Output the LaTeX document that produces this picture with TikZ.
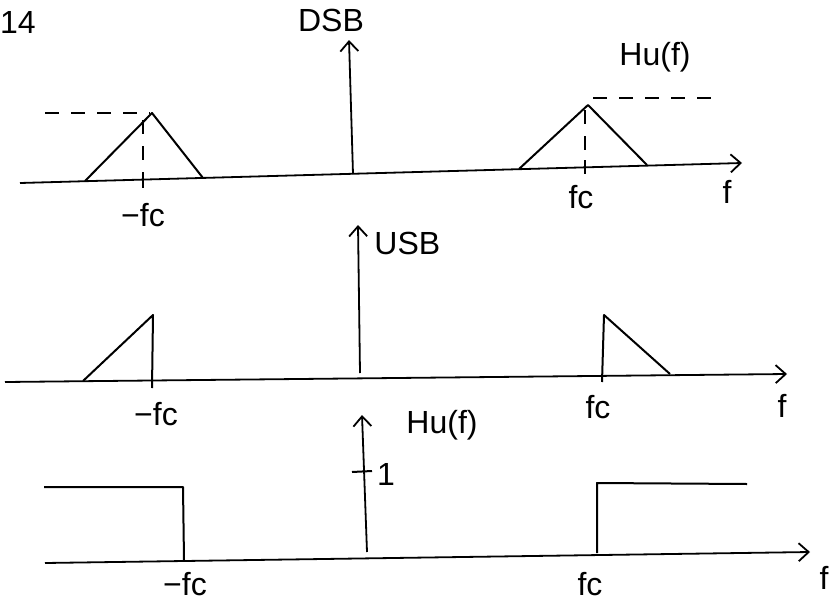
\documentclass[tikz,border=0pt]{standalone}
\usepackage{fontspec}
\setmainfont{Liberation Sans}
\usetikzlibrary{arrows.meta}

\begin{document}
\begin{tikzpicture}[x=0.5pt,y=-0.5pt,
  every node/.style={font=\fontsize{16}{19}\selectfont,inner sep=1pt},
  curve/.style={line width=1pt,line join=round},
  guide/.style={line width=0.9pt,dash pattern=on 7pt off 6pt},
  axis/.style={line width=0.9pt,->},
  >={Straight Barb[length=5pt,width=9pt]}]
\useasboundingbox (0,0) rectangle (835,605);
\node (num) at (18,22) {14};
% DSB
\draw[axis] (20,183) -- (742,163);
\draw[curve] (85,181) -- (152,113) -- (203,178);
\draw[curve] (519,169) -- (588,105) -- (647,165);
\draw[guide] (45,113) -- (150,113) (143,120) -- (143,176);
\draw[guide] (593,98) -- (717,98) (585,110) -- (585,164);
\draw[curve] (143,172) -- (143,188) (585,160) -- (585,174);
\draw[axis] (353,174) -- (349,40);
\node (dsb) at (331,20) {DSB};
\node (hu1) at (655,57) {Hu(f)};
\node (mfc1) at (143,215) {−fc};
\node (fc1) at (581,197) {fc};
\node (f1) at (727,192) {f};
% USB
\draw[axis] (5,382) -- (787,374);
\draw[curve] (83,381) -- (153,315) -- (152,388);
\draw[curve] (602,382) -- (604,315) -- (670,374);
\draw[axis] (360,373) -- (358,225);
\node[anchor=west] (usb) at (372,243) {USB};
\node (mfc2) at (156,414) {−fc};
\node (fc2) at (598,407) {fc};
\node (f2) at (782,406) {f};
% Hu(f)
\draw[axis] (45,563) -- (810,552);
\draw[curve] (44,487) -- (183,487) -- (184,560);
\draw[curve] (597,553) -- (597,483) -- (747,484);
\draw[axis] (367,552) -- (362,415);
\draw[curve] (352,472) -- (372,471);
\node (one) at (386,474) {1};
\node (hu2) at (442,425) {Hu(f)};
\node (mfc3) at (185,584) {−fc};
\node (fc3) at (590,584) {fc};
\node (f3) at (824,578) {f};
\end{tikzpicture}
\end{document}
